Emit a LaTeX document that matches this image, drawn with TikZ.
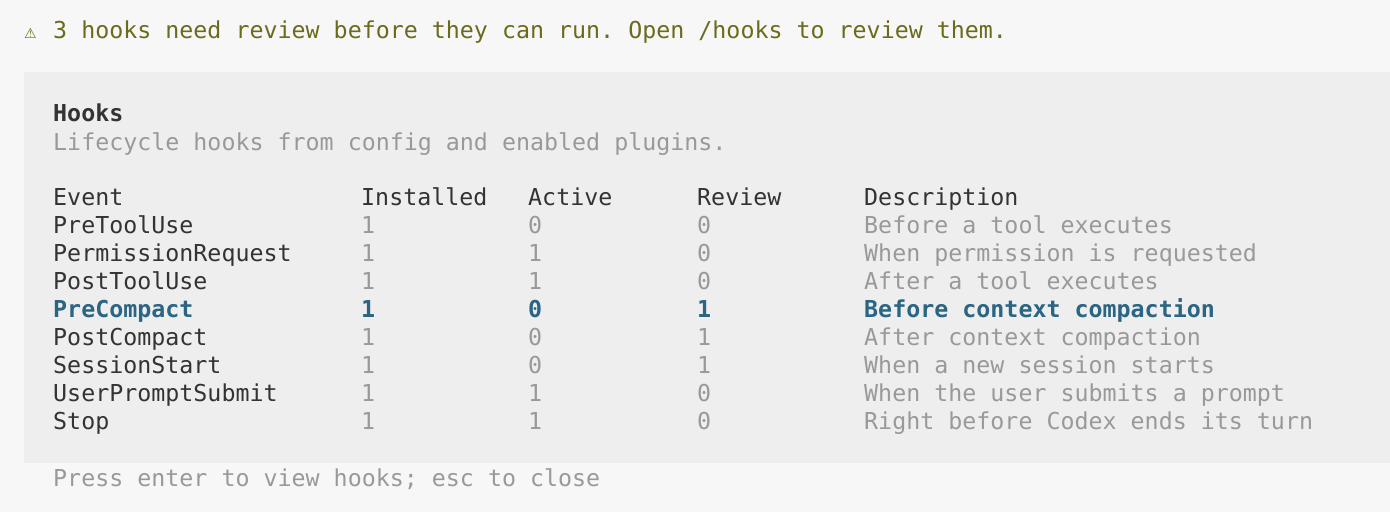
\documentclass[tikz,border=0pt]{standalone}
\usepackage{fontspec}
\setmonofont{DejaVu Sans Mono}
\newfontfamily\symfont{DejaVu Sans}
\definecolor{outerbg}{HTML}{F7F7F7}
\definecolor{panelbg}{HTML}{EEEEEE}
\definecolor{warnc}{HTML}{6B6B1E}
\definecolor{textc}{HTML}{333333}
\definecolor{dimc}{HTML}{999999}
\definecolor{selc}{HTML}{2B6584}
\begin{document}
\begin{tikzpicture}[x=1pt, y=-1pt]

\tikzset{
txt/.style={anchor=base west, inner sep=0pt, font=\fontsize{23.3}{28}\ttfamily},
plain/.style={txt, text=textc},
dim/.style={txt, text=dimc},
sel/.style={txt, text=selc, font=\fontsize{23.3}{28}\ttfamily\bfseries}
}

% Background
\fill[outerbg] (0,0) rectangle (1390,512);
\fill[panelbg] (24,72) rectangle (1390,463);

% Warning line
\node[anchor=base west, inner sep=0pt, text=warnc, font=\fontsize{14}{16}\symfont] (warnsym) at (24,38) {⚠};
\node[txt, text=warnc] (warn) at (53,38) {3 hooks need review before they can run. Open /hooks to review them.};

% Header
\node[txt, text=textc, font=\fontsize{23.3}{28}\ttfamily\bfseries] (title) at (53,121) {Hooks};
\node[dim] (subtitle) at (53,150) {Lifecycle hooks from config and enabled plugins.};

% Columns
\node[plain] (hevent) at (53,205) {Event};
\node[plain] (hinst) at (361,205) {Installed};
\node[plain] (hact) at (528,205) {Active};
\node[plain] (hrev) at (697,205) {Review};
\node[plain] (hdesc) at (864,205) {Description};

% Rows
\foreach \ev/\ins/\act/\rev/\desc/\st [count=\i] in {
  PreToolUse/1/0/0/Before a tool executes/plain,
  PermissionRequest/1/1/0/When permission is requested/plain,
  PostToolUse/1/1/0/After a tool executes/plain,
  PreCompact/1/0/1/Before context compaction/sel,
  PostCompact/1/0/1/After context compaction/plain,
  SessionStart/1/0/1/When a new session starts/plain,
  UserPromptSubmit/1/1/0/When the user submits a prompt/plain,
  Stop/1/1/0/Right before Codex ends its turn/plain}{
  \pgfmathsetmacro{\yy}{205+28*\i}
  \ifx\st\empty\fi
  \node[\st] (ev\i) at (53,\yy) {\ev};
  \edef\vst{\st}
  \def\plainname{plain}
  \ifx\vst\plainname \def\cst{dim}\def\dst{dim}\else \def\cst{sel}\def\dst{sel}\fi
  \node[\cst] (ins\i) at (361,\yy) {\ins};
  \node[\cst] (act\i) at (528,\yy) {\act};
  \node[\cst] (rev\i) at (697,\yy) {\rev};
  \node[\dst] (desc\i) at (864,\yy) {\desc};
}

% Footer
\node[dim] (footer) at (53,486) {Press enter to view hooks; esc to close};

\end{tikzpicture}
\end{document}
